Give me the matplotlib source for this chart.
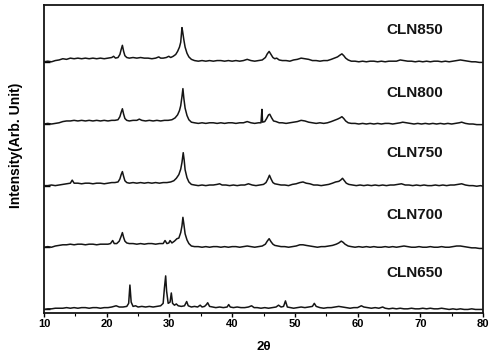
import matplotlib
matplotlib.use("Agg")
import matplotlib.pyplot as plt
from matplotlib.ticker import MultipleLocator

sample_names = ["CLN850", "CLN800", "CLN750", "CLN700", "CLN650"]
stack_offsets = [4.11, 3.09, 2.08, 1.07, 0.05]
label_heights = [4.63, 3.60, 2.62, 1.60, 0.65]
label_2theta = 69.1

cln850 = [(10.0,0.00),(10.6,0.01),(11.2,0.00),(11.8,0.02),(12.4,0.03),(13.0,0.05),(13.6,0.04),(14.2,0.06),(14.8,0.05),(15.4,0.06),(16.0,0.05),(16.6,0.06),(17.2,0.05),(17.8,0.06),(18.4,0.05),(19.0,0.06),(19.6,0.05),(20.2,0.06),(20.8,0.07),(21.1,0.09),(21.4,0.06),(21.8,0.07),(22.1,0.12),(22.3,0.20),(22.5,0.27),(22.7,0.17),(22.9,0.10),(23.2,0.07),(23.6,0.06),(24.2,0.07),(24.8,0.06),(25.4,0.07),(26.0,0.06),(26.6,0.06),(27.2,0.05),(27.8,0.06),(28.3,0.08),(28.6,0.06),(29.0,0.06),(29.5,0.07),(29.9,0.09),(30.2,0.07),(30.6,0.09),(31.0,0.12),(31.3,0.17),(31.6,0.24),(31.8,0.32),(32.0,0.56),(32.1,0.50),(32.3,0.36),(32.5,0.24),(32.8,0.14),(33.1,0.08),(33.5,0.04),(34.0,0.02),(34.6,0.01),(35.2,0.02),(35.8,0.01),(36.4,0.02),(37.0,0.01),(37.6,0.02),(38.2,0.02),(38.8,0.01),(39.4,0.02),(40.0,0.01),(40.6,0.02),(41.2,0.01),(41.8,0.02),(42.4,0.04),(43.0,0.02),(43.6,0.01),(44.2,0.02),(44.8,0.03),(45.3,0.07),(45.6,0.13),(45.9,0.17),(46.2,0.12),(46.5,0.07),(46.8,0.05),(47.1,0.06),(47.5,0.03),(48.0,0.02),(48.6,0.02),(49.2,0.01),(49.8,0.03),(50.4,0.04),(51.0,0.06),(51.6,0.05),(52.2,0.04),(52.8,0.02),(53.4,0.02),(54.0,0.01),(54.6,0.02),(55.2,0.02),(55.8,0.04),(56.3,0.06),(56.8,0.08),(57.2,0.11),(57.5,0.13),(57.8,0.10),(58.1,0.06),(58.5,0.03),(59.0,0.01),(59.6,0.01),(60.2,0.00),(60.8,0.01),(61.4,0.00),(62.0,0.01),(62.6,0.01),(63.2,0.00),(63.8,0.01),(64.4,0.00),(65.0,0.01),(65.6,0.01),(66.2,0.01),(66.8,0.03),(67.4,0.02),(68.0,0.01),(68.6,0.01),(69.2,0.00),(69.8,0.01),(70.4,0.00),(71.0,0.01),(71.6,0.00),(72.2,0.01),(72.8,0.01),(73.4,0.00),(74.0,0.01),(74.6,0.00),(75.2,0.01),(75.8,0.02),(76.4,0.03),(77.0,0.02),(77.6,0.01),(78.2,0.00),(78.8,0.00),(79.4,-0.01),(80.0,-0.01)]

cln800 = [(10.0,0.00),(10.6,0.01),(11.2,0.00),(11.8,0.01),(12.4,0.02),(13.0,0.04),(13.6,0.05),(14.2,0.05),(14.8,0.06),(15.4,0.05),(16.0,0.06),(16.6,0.05),(17.2,0.06),(17.8,0.05),(18.4,0.06),(19.0,0.05),(19.6,0.06),(20.2,0.05),(20.8,0.06),(21.3,0.06),(21.8,0.07),(22.1,0.12),(22.3,0.19),(22.5,0.25),(22.7,0.16),(22.9,0.09),(23.2,0.06),(23.6,0.05),(24.2,0.06),(24.8,0.06),(25.2,0.08),(25.6,0.06),(26.2,0.05),(26.8,0.06),(27.4,0.05),(28.0,0.06),(28.6,0.05),(29.2,0.06),(29.8,0.06),(30.4,0.07),(30.9,0.10),(31.3,0.15),(31.6,0.22),(31.8,0.30),(32.0,0.45),(32.15,0.58),(32.3,0.42),(32.5,0.26),(32.8,0.14),(33.1,0.07),(33.5,0.03),(34.0,0.02),(34.6,0.01),(35.2,0.02),(35.8,0.01),(36.4,0.02),(37.0,0.02),(37.6,0.01),(38.2,0.02),(38.8,0.01),(39.4,0.02),(40.0,0.02),(40.6,0.01),(41.2,0.02),(41.8,0.02),(42.4,0.04),(43.0,0.02),(43.6,0.01),(44.2,0.02),(44.6,0.02),(44.75,0.24),(44.85,0.03),(45.2,0.04),(45.5,0.09),(45.8,0.15),(46.0,0.16),(46.3,0.10),(46.6,0.05),(47.0,0.04),(47.5,0.02),(48.0,0.02),(48.6,0.01),(49.2,0.02),(49.8,0.03),(50.4,0.04),(51.0,0.06),(51.6,0.05),(52.2,0.03),(52.8,0.02),(53.4,0.01),(54.0,0.02),(54.6,0.01),(55.2,0.02),(55.8,0.04),(56.3,0.06),(56.8,0.08),(57.2,0.10),(57.5,0.12),(57.8,0.09),(58.1,0.05),(58.5,0.02),(59.0,0.01),(59.6,0.01),(60.2,0.00),(60.8,0.01),(61.4,0.00),(62.0,0.01),(62.6,0.00),(63.2,0.01),(63.8,0.00),(64.4,0.01),(65.0,0.01),(65.6,0.00),(66.2,0.01),(66.8,0.02),(67.2,0.03),(67.8,0.02),(68.4,0.01),(69.0,0.00),(69.6,0.01),(70.2,0.00),(70.8,0.01),(71.4,0.00),(72.0,0.01),(72.6,0.00),(73.2,0.01),(73.8,0.00),(74.4,0.01),(75.0,0.00),(75.6,0.01),(76.2,0.02),(76.6,0.03),(77.2,0.01),(77.8,0.00),(78.4,0.00),(79.0,-0.01),(79.6,-0.01),(80.0,-0.01)]

cln750 = [(10.0,0.00),(10.6,0.00),(11.2,0.01),(11.8,0.00),(12.4,0.01),(13.0,0.02),(13.6,0.03),(14.2,0.04),(14.5,0.09),(14.8,0.04),(15.4,0.04),(16.0,0.03),(16.6,0.04),(17.2,0.04),(17.8,0.03),(18.4,0.04),(19.0,0.04),(19.6,0.03),(20.2,0.04),(20.8,0.05),(21.3,0.05),(21.8,0.06),(22.1,0.11),(22.3,0.18),(22.5,0.23),(22.7,0.15),(22.9,0.08),(23.2,0.05),(23.6,0.04),(24.2,0.05),(24.8,0.04),(25.4,0.05),(26.0,0.04),(26.6,0.05),(27.2,0.04),(27.8,0.05),(28.4,0.04),(29.0,0.05),(29.6,0.05),(30.2,0.06),(30.7,0.08),(31.1,0.12),(31.5,0.18),(31.8,0.27),(32.0,0.38),(32.2,0.54),(32.35,0.42),(32.5,0.26),(32.8,0.13),(33.1,0.06),(33.5,0.02),(34.0,0.01),(34.6,0.00),(35.2,0.01),(35.8,0.00),(36.4,0.01),(37.0,0.01),(37.6,0.02),(38.0,0.03),(38.4,0.01),(39.0,0.01),(39.6,0.00),(40.2,0.01),(40.8,0.00),(41.4,0.01),(42.0,0.01),(42.6,0.03),(43.2,0.01),(43.8,0.00),(44.4,0.01),(45.0,0.02),(45.4,0.05),(45.7,0.11),(45.95,0.17),(46.2,0.11),(46.5,0.05),(46.8,0.03),(47.3,0.02),(47.8,0.01),(48.4,0.01),(49.0,0.00),(49.6,0.02),(50.2,0.03),(50.8,0.05),(51.3,0.06),(51.8,0.04),(52.4,0.03),(53.0,0.01),(53.6,0.01),(54.2,0.00),(54.8,0.01),(55.4,0.02),(56.0,0.04),(56.5,0.06),(57.0,0.07),(57.3,0.09),(57.6,0.12),(57.9,0.08),(58.2,0.04),(58.6,0.02),(59.2,0.01),(59.8,0.00),(60.4,0.01),(61.0,0.00),(61.6,0.01),(62.2,0.00),(62.8,0.01),(63.4,0.00),(64.0,0.01),(64.6,0.00),(65.2,0.01),(65.8,0.01),(66.4,0.02),(67.0,0.03),(67.6,0.01),(68.2,0.01),(68.8,0.00),(69.4,0.01),(70.0,0.00),(70.6,0.01),(71.2,0.00),(71.8,0.00),(72.4,0.01),(73.0,0.00),(73.6,0.01),(74.2,0.00),(74.8,0.01),(75.4,0.01),(76.0,0.02),(76.6,0.03),(77.2,0.01),(77.8,0.00),(78.4,0.00),(79.0,-0.01),(79.6,0.00),(80.0,-0.01)]

cln700 = [(10.0,0.00),(10.6,0.01),(11.2,0.00),(11.8,0.02),(12.4,0.03),(13.0,0.04),(13.6,0.04),(14.2,0.05),(14.8,0.04),(15.4,0.05),(16.0,0.05),(16.6,0.04),(17.2,0.05),(17.8,0.05),(18.4,0.04),(19.0,0.05),(19.6,0.05),(20.2,0.05),(20.6,0.06),(20.95,0.11),(21.2,0.06),(21.6,0.06),(22.0,0.10),(22.3,0.18),(22.5,0.24),(22.7,0.16),(22.9,0.10),(23.2,0.07),(23.6,0.06),(24.2,0.06),(24.8,0.05),(25.4,0.06),(26.0,0.05),(26.6,0.06),(27.2,0.06),(27.8,0.05),(28.4,0.06),(29.0,0.06),(29.3,0.11),(29.6,0.06),(29.9,0.07),(30.1,0.11),(30.4,0.07),(30.8,0.10),(31.2,0.14),(31.5,0.15),(31.8,0.24),(32.0,0.35),(32.15,0.49),(32.3,0.38),(32.5,0.22),(32.8,0.12),(33.1,0.06),(33.5,0.02),(34.0,0.01),(34.6,0.01),(35.2,0.00),(35.8,0.01),(36.4,0.00),(37.0,0.01),(37.6,0.01),(38.2,0.00),(38.8,0.01),(39.4,0.00),(40.0,0.01),(40.6,0.01),(41.2,0.00),(41.8,0.01),(42.4,0.02),(43.0,0.01),(43.6,0.00),(44.2,0.01),(44.8,0.02),(45.3,0.05),(45.6,0.10),(45.9,0.14),(46.2,0.09),(46.5,0.05),(46.8,0.03),(47.3,0.02),(47.8,0.01),(48.4,0.01),(49.0,0.00),(49.6,0.01),(50.2,0.02),(50.8,0.04),(51.3,0.04),(51.8,0.03),(52.4,0.02),(53.0,0.01),(53.6,0.00),(54.2,0.01),(54.8,0.01),(55.4,0.02),(56.0,0.03),(56.6,0.05),(57.0,0.07),(57.4,0.10),(57.7,0.08),(58.0,0.05),(58.5,0.02),(59.0,0.01),(59.6,0.00),(60.2,0.01),(60.8,0.00),(61.4,0.01),(62.0,0.00),(62.6,0.01),(63.2,0.00),(63.8,0.00),(64.4,0.01),(65.0,0.00),(65.6,0.01),(66.2,0.00),(66.8,0.01),(67.4,0.02),(68.0,0.01),(68.6,0.00),(69.2,0.00),(69.8,0.01),(70.4,0.00),(71.0,0.00),(71.6,0.01),(72.2,0.00),(72.8,0.00),(73.4,0.01),(74.0,0.00),(74.6,0.00),(75.2,0.01),(75.8,0.02),(76.4,0.02),(77.0,0.01),(77.6,0.00),(78.2,-0.01),(78.8,-0.01),(79.4,-0.02),(80.0,-0.02)]

cln650 = [(10.0,0.00),(10.6,0.01),(11.2,0.01),(11.8,0.02),(12.4,0.02),(13.0,0.02),(13.6,0.03),(14.2,0.02),(14.8,0.03),(15.4,0.02),(16.0,0.03),(16.6,0.03),(17.2,0.02),(17.8,0.03),(18.4,0.03),(19.0,0.02),(19.6,0.03),(20.2,0.03),(20.8,0.04),(21.5,0.06),(22.0,0.04),(22.6,0.04),(23.2,0.05),(23.5,0.10),(23.7,0.40),(23.9,0.12),(24.2,0.05),(24.6,0.06),(25.0,0.04),(25.6,0.05),(26.2,0.04),(26.8,0.05),(27.4,0.04),(28.0,0.05),(28.6,0.06),(29.0,0.10),(29.2,0.35),(29.4,0.55),(29.55,0.30),(29.8,0.10),(30.1,0.12),(30.3,0.27),(30.5,0.10),(30.8,0.07),(31.1,0.09),(31.4,0.06),(31.9,0.05),(32.4,0.06),(32.75,0.13),(33.0,0.06),(33.5,0.04),(34.0,0.05),(34.5,0.04),(34.9,0.07),(35.2,0.04),(35.6,0.05),(35.9,0.08),(36.1,0.11),(36.4,0.05),(36.9,0.04),(37.4,0.03),(38.0,0.04),(38.6,0.03),(39.2,0.04),(39.45,0.08),(39.7,0.04),(40.2,0.03),(40.8,0.04),(41.4,0.03),(42.0,0.03),(42.6,0.04),(43.1,0.06),(43.5,0.03),(44.0,0.03),(44.6,0.02),(45.2,0.03),(45.8,0.02),(46.4,0.03),(47.0,0.04),(47.4,0.07),(47.8,0.04),(48.2,0.05),(48.5,0.14),(48.8,0.04),(49.3,0.03),(49.8,0.02),(50.4,0.03),(51.0,0.04),(51.6,0.03),(52.2,0.04),(52.8,0.05),(53.1,0.10),(53.4,0.05),(54.0,0.03),(54.6,0.02),(55.2,0.03),(55.8,0.03),(56.4,0.04),(57.0,0.05),(57.6,0.04),(58.2,0.03),(58.8,0.02),(59.4,0.03),(60.0,0.03),(60.6,0.06),(61.0,0.04),(61.6,0.03),(62.2,0.02),(62.8,0.03),(63.4,0.02),(64.0,0.04),(64.4,0.02),(65.0,0.01),(65.6,0.02),(66.2,0.01),(66.8,0.02),(67.4,0.01),(68.0,0.01),(68.6,0.02),(69.2,0.01),(69.8,0.01),(70.4,0.02),(71.0,0.01),(71.6,0.02),(72.2,0.01),(72.8,0.01),(73.4,0.02),(74.0,0.01),(74.6,0.00),(75.2,0.01),(75.8,0.00),(76.4,0.01),(77.0,0.00),(77.6,0.00),(78.2,0.01),(78.8,0.00),(79.4,0.00),(80.0,0.00)]

patterns = [cln850, cln800, cln750, cln700, cln650]
x_ticks = [10, 20, 30, 40, 50, 60, 70, 80]

plt.rcParams['font.family'] = ['Liberation Sans', 'DejaVu Sans']

fig = plt.figure(figsize=(4.95, 3.58), dpi=100)
ax = fig.add_axes([44/495, (358-312.5)/358, 439/495, 308/358])

for name, pts, off, ly in zip(sample_names, patterns, stack_offsets, label_heights):
    xs = [p[0] for p in pts]
    ys = [p[1] + off for p in pts]
    ax.plot(xs, ys, color='#151515', lw=1.1)
    ax.text(label_2theta, ly, name, ha='center', va='center',
            fontsize=11, fontweight='bold', color='#151515')

ax.set_xlim(10, 80)
ax.set_ylim(0, 308/61)
ax.set_xticks(x_ticks)
ax.set_xticklabels([str(t) for t in x_ticks], fontsize=8, fontweight='bold')
ax.xaxis.set_minor_locator(MultipleLocator(5))
ax.set_yticks(stack_offsets)
ax.set_yticklabels([])
ax.tick_params(axis='x', which='major', direction='out', length=3, width=1, pad=2)
ax.tick_params(axis='x', which='minor', direction='out', length=2, width=0.8)
ax.tick_params(axis='y', direction='in', length=4, width=1)
for s in ax.spines.values():
    s.set_linewidth(1.3)
    s.set_color('#151515')

ax.set_xlabel('2θ', fontsize=9.5, fontweight='bold', labelpad=8)
ax.set_ylabel('Intensity(Arb. Unit)', fontsize=10, fontweight='bold')
ax.yaxis.set_label_coords(-0.048, (312.5 - 145) / 308)

fig.savefig('out.png', dpi=100)
